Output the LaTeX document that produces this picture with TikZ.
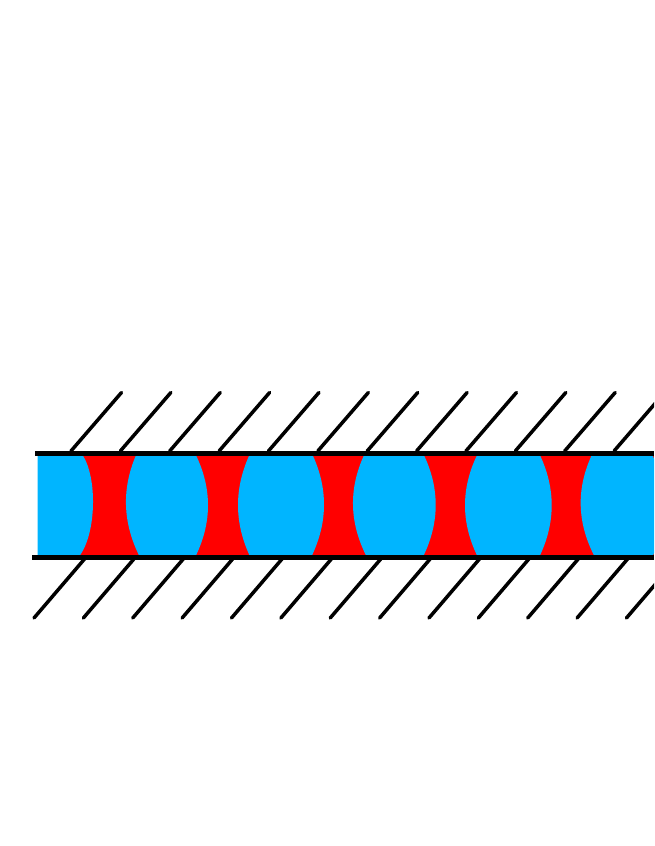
\documentclass[tikz,border=0pt]{standalone}
\definecolor{fluidblue}{RGB}{0,181,255}
\definecolor{fluidred}{RGB}{255,0,0}
\tikzset{
  wall/.style={draw=black,line width=4.9pt},
  hatch/.style={draw=black,line width=3.5pt,line cap=round},
  slugred/.style={fill=fluidred},
  slugblue/.style={fill=fluidblue}
}
% blue slug: left edge top/mid/bottom x, then right edge top/mid/bottom x
\newcommand{\lens}[6]{\fill[slugblue] (#1,455.2) .. controls ({#1+2/3*(2*#2-#1/2-#3/2-#1)},{455.2+100.2/3}) and ({#3+2/3*(2*#2-#1/2-#3/2-#3)},{555.4-100.2/3}) .. (#3,555.4) -- (#6,555.4) .. controls ({#6+2/3*(2*#5-#4/2-#6/2-#6)},{555.4-100.2/3}) and ({#4+2/3*(2*#5-#4/2-#6/2-#4)},{455.2+100.2/3}) .. (#4,455.2) -- cycle;}
\begin{document}
\begin{tikzpicture}[x=1pt,y=-1pt]
\useasboundingbox (0,0) rectangle (654,846);
\clip (0,0) rectangle (654,846);
\fill[slugred] (37.5,453) rectangle (654,557);
% first slug, cut by the straight left end
\fill[slugblue] (37.5,455.2) -- (82.7,455.2) .. controls (97.3,478) and (96.4,532) .. (80,555.4) -- (37.5,555.4) -- cycle;
\lens{136}{126}{139}{196}{208}{196}
\lens{249.3}{238}{249.5}{312.7}{324}{312}
\lens{364}{353}{366}{424}{435.7}{423.7}
\lens{477}{465}{477}{540}{551.7}{540}
\lens{591.7}{580.7}{594}{652.5}{664}{653}
% hatching above and below
\foreach \i in {0,...,12}{
  \draw[hatch] ({71+49.37*\i},451) -- ({121.5+49.37*\i},392.5);
  \draw[hatch] ({84.5+49.37*\i},559) -- ({34+49.37*\i},618);
}
\draw[wall] (35,453.4) -- (654,453.4);
\draw[wall] (32,557.5) -- (654,557.5);
\end{tikzpicture}
\end{document}
